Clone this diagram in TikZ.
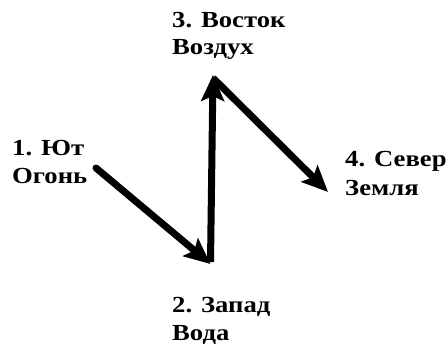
\documentclass[tikz,border=0pt]{standalone}
\usepackage{fontspec}
\setmainfont{Liberation Serif}
\newfontfamily\lblfont[FakeStretch=1.16]{Liberation Serif}
\usetikzlibrary{arrows.meta}
\begin{document}
\begin{tikzpicture}[x=1pt,y=-1pt,
  lbl/.style={anchor=base west,inner sep=0pt,font=\lblfont\bfseries\fontsize{23}{28}\selectfont},
  arr/.style={line width=7pt,-{Stealth[length=26pt,width=23pt,inset=5pt]}}]
\useasboundingbox (0,0) rectangle (446,352);
\fill[white] (0,0) rectangle (446,352);
% labels
\node[lbl] (s1) at (12,156) {1. Ют};
\node[lbl] (s1b) at (12,184) {Огонь};
\node[lbl] (s2) at (172,312) {2. Запад};
\node[lbl] (s2b) at (172,340) {Вода};
\node[lbl] (s3) at (172,28) {3. Восток};
\node[lbl] (s3b) at (172,55) {Воздух};
\node[lbl] (s4) at (345,167) {4. Север};
\node[lbl] (s4b) at (345,196) {Земля};
% arrow points
\coordinate (p1) at (96,168);
\coordinate (p2) at (210.5,264);
\coordinate (p3) at (213,75);
\coordinate (p4) at (328,192);
\coordinate (q2) at (210.5,262);
\coordinate (q3) at (213,78);
\draw[arr,line cap=round] (p1) -- (p2);
\draw[arr] (q2) -- (p3);
\draw[arr] (q3) -- (p4);
\end{tikzpicture}
\end{document}
